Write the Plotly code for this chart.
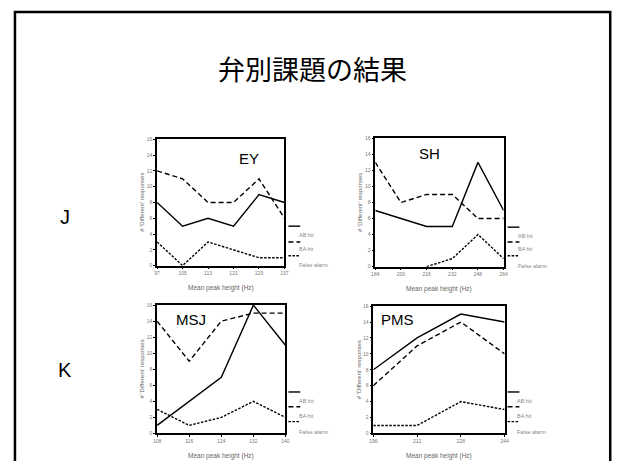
import plotly.graph_objects as go

W, H = 624, 461
OFF = 8  # default page body margin in the browser

# ---- data ----
ey_x = [97, 105, 113, 121, 129, 137]
ey_ab = [8, 5, 6, 5, 9, 8]
ey_ba = [12, 11, 8, 8, 11, 6]
ey_fa = [3, 0, 3, 2, 1, 1]

sh_x = [184, 200, 216, 232, 248, 264]
sh_ab = [7, 6, 5, 5, 13, 7]
sh_ba = [13, 8, 9, 9, 6, 6]
sh_fa = [None, None, 0, 1, 4, 1]

msj_x = [108, 116, 124, 132, 140]
msj_ab = [1, 4, 7, 16, 11]
msj_ba = [14, 9, 14, 15, 15]
msj_fa = [3, 1, 2, 4, 2]

pms_x = [196, 212, 228, 244]
pms_ab = [8, 12, 15, 14]
pms_ba = [6, 11, 14, 10]
pms_fa = [1, 1, 4, 3]

y_ticks = [0, 2, 4, 6, 8, 10, 12, 14, 16]
series_names = ["AB hit", "BA hit", "False alarm"]
speakers = ["EY", "SH", "MSJ", "PMS"]
row_labels = ["J", "K"]
title_text = "弁別課題の結果"
x_title = "Mean peak height (Hz)"
y_title = "# 'Different' responses"

# ---- layout helpers (page pixel -> paper) ----
def px(x):
    return (x - OFF) / W

def py(y):
    return 1 - (y - OFF) / H

panels = [
    dict(name=speakers[0], x=ey_x, ys=[ey_ab, ey_ba, ey_fa], box=(155, 284, 138, 266),
         lab=(248, 157), leg=(288, 300, 297, [226, 242, 256], [235, 249, 265])),
    dict(name=speakers[1], x=sh_x, ys=[sh_ab, sh_ba, sh_fa], box=(376, 506, 137, 267),
         lab=(431, 152), leg=(510, 522, 519, [227, 242, 256], [236, 249, 266])),
    dict(name=speakers[2], x=msj_x, ys=[msj_ab, msj_ba, msj_fa], box=(155, 285, 306, 436),
         lab=(189, 321), leg=(288, 300, 297, [394, 409, 424], [403, 418, 435])),
    dict(name=speakers[3], x=pms_x, ys=[pms_ab, pms_ba, pms_fa], box=(374, 507, 307, 436),
         lab=(399, 321), leg=(510, 522, 518, [394, 409, 424], [403, 418, 435])),
]

dashes = ["solid", "5px,3px", "2.5px,1.5px"]
LW = 1.4
SANS = "Liberation Sans, Arial, sans-serif"
tick_font = dict(family=SANS, size=5, color="#777777")
small_font = dict(family=SANS, size=5.5, color="#888888")

fig = go.Figure()
shapes = []
annotations = []

def note(x, y, text, font, xanchor="center", yanchor="middle", angle=0):
    annotations.append(dict(x=px(x), y=py(y), xref="paper", yref="paper", text=text,
                            showarrow=False, xanchor=xanchor, yanchor=yanchor,
                            textangle=angle, font=font))

for i, p in enumerate(panels):
    n = "" if i == 0 else str(i + 1)
    xa, ya = "x" + n, "y" + n
    x0, x1, y0, y1 = p["box"]
    for k, ys in enumerate(p["ys"]):
        fig.add_trace(go.Scatter(
            x=p["x"], y=ys, mode="lines", name=series_names[k],
            line=dict(color="black", width=LW, dash=dashes[k]),
            xaxis=xa, yaxis=ya, showlegend=False, connectgaps=False,
        ))
    axis_common = dict(showline=True, linecolor="black", linewidth=1.5, mirror=True,
                       showgrid=False, zeroline=False, ticks="outside", ticklen=2,
                       tickwidth=0.8, tickcolor="black", tickfont=tick_font)
    fig.layout["xaxis" + n] = dict(
        domain=[px(x0), px(x1)], range=[p["x"][0], p["x"][-1]],
        tickmode="array", tickvals=p["x"], ticktext=[str(v) for v in p["x"]],
        anchor=ya, **axis_common)
    fig.layout["yaxis" + n] = dict(
        domain=[py(y1), py(y0)], range=[0, 16], tickmode="array",
        tickvals=y_ticks, anchor=xa, **axis_common)
    note(p["lab"][0], p["lab"][1], p["name"], dict(family=SANS, size=15, color="black"))
    note((x0 + x1) / 2, y1 + 23, x_title, dict(family=SANS, size=6.5, color="#666666"))
    note(x0 - 15, (y0 + y1) / 2, y_title, dict(family=SANS, size=6, color="#666666"), angle=-90)
    lx0, lx1, tx, ly, ty = p["leg"]
    for k in range(3):
        shapes.append(dict(type="line", xref="paper", yref="paper",
                           x0=px(lx0), x1=px(lx1), y0=py(ly[k]), y1=py(ly[k]),
                           line=dict(color="black", width=LW, dash=dashes[k])))
        note(tx, ty[k], series_names[k], small_font, xanchor="left")

# slide border
shapes.append(dict(type="rect", xref="paper", yref="paper",
                   x0=px(11), x1=px(614), y0=py(9), y1=py(480),
                   line=dict(color="black", width=2.5)))

note(312, 66, title_text, dict(family="Noto Sans CJK JP", size=27, color="black"))
note(62, 217, row_labels[0], dict(family=SANS, size=20, color="black"))
note(62, 372, row_labels[1], dict(family=SANS, size=20, color="black"))

fig.update_layout(width=W, height=H, margin=dict(l=0, r=0, t=0, b=0),
                  paper_bgcolor="white", plot_bgcolor="white",
                  shapes=shapes, annotations=annotations, showlegend=False)

fig.write_html("out.html", config={"displayModeBar": False})
